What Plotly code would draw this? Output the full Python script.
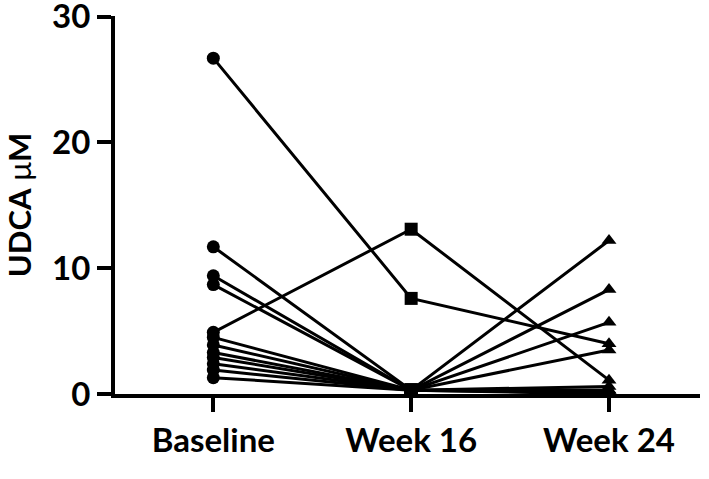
import plotly.graph_objects as go

timepoints = ["Baseline", "Week 16", "Week 24"]
# one row per subject: [Baseline, Week 16, Week 24] UDCA (µM)
subj_baseline = [26.7, 4.9, 11.7, 9.4, 8.7, 4.5, 3.9, 3.3, 2.9, 2.4, 1.9, 1.3]
subj_week16 = [7.6, 13.1, 0.3, 0.3, 0.3, 0.3, 0.3, 0.3, 0.3, 0.3, 0.3, 0.3]
subj_week24 = [4.0, 1.1, 12.2, 0.3, 8.3, 5.7, 3.5, 0.6, 0.3, 0.2, 0.1, 0.0]
y_ticks = [0, 10, 20, 30]

fig = go.Figure()
xpos = [0, 1, 2]
for b, w16, w24 in zip(subj_baseline, subj_week16, subj_week24):
    fig.add_trace(go.Scatter(
        x=xpos, y=[b, w16, w24], mode="lines+markers",
        line=dict(color="black", width=3),
        marker=dict(symbol=["circle", "square", "triangle-up"], size=13, color="black"),
        cliponaxis=False, showlegend=False, hoverinfo="skip"))

tickfont = dict(family="Lato, sans-serif", size=33, color="black", weight="bold")
fig.update_layout(
    width=709, height=479,
    margin=dict(l=115, r=9, t=16, b=85),
    paper_bgcolor="white", plot_bgcolor="white",
    xaxis=dict(range=[-0.497, 2.46], tickvals=xpos, ticktext=timepoints, automargin=False,
               showgrid=False, zeroline=False, showline=True, linecolor="black", linewidth=4,
               ticks="outside", ticklen=14, tickwidth=4, tickcolor="black",
               tickfont=tickfont, ticklabeloverflow="allow"),
    yaxis=dict(range=[0, 30.05], tickvals=y_ticks, automargin=False,
               showgrid=False, zeroline=False, showline=True, linecolor="black", linewidth=4,
               ticks="outside", ticklen=14, tickwidth=4, tickcolor="black",
               tickfont=tickfont, ticklabeloverflow="allow",
               title=dict(text="<b>UDCA</b> μ<b>M</b>", standoff=37,
                          font=dict(family="Lato, sans-serif", size=31, color="black"))),
)
fig.write_html("out.html", config={"displayModeBar": False, "staticPlot": True},
               post_script="document.body.style.margin='0';document.body.style.overflow='hidden';")
